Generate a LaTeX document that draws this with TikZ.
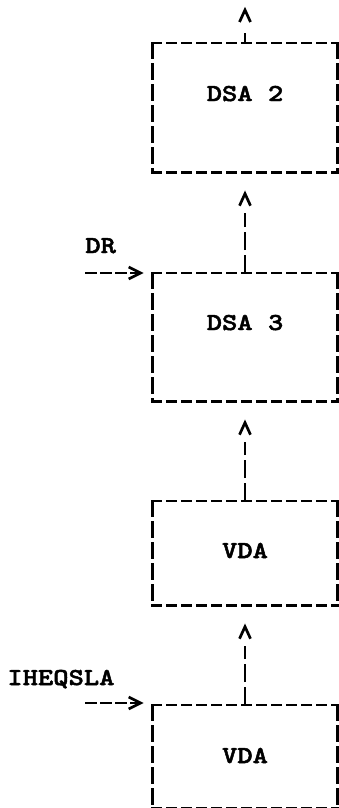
\documentclass[tikz,border=0pt]{standalone}
\usepackage{fontspec}
\newfontfamily\courfont{lmmonolt10-bold.otf}[FakeStretch=1.2,FakeBold=2]
\usetikzlibrary{arrows.meta,calc}
\newcommand\mydashbox[1]{%
  \draw[hedge] (#1.north west) -- (#1.north east);
  \draw[hedge] (#1.south west) -- (#1.south east);
  \draw[vedge] (#1.north west) -- (#1.south west);
  \draw[vedge] (#1.north east) -- (#1.south east);}
\newcommand\mycaret[2]{% node anchor, offset of apex
  \draw[caret] ($(#1)+(-5.5,#2-12)$) -- ($(#1)+(0,#2)$) -- ($(#1)+(5.5,#2-12)$);}
\begin{document}
\begin{tikzpicture}[x=1pt,y=1pt,line width=2.7pt,
  box/.style={draw=none,minimum width=182pt,inner sep=0pt,anchor=north},
  hedge/.style={line cap=rect,dash pattern=on 8.3pt off 6.7pt},
  vedge/.style={line cap=rect,dash pattern=on 14.3pt off 6.7pt},
  vconn/.style={dash pattern=on 18pt off 5pt},
  hconn/.style={dash pattern=on 12pt off 3pt,shorten >=9pt,
    -{Straight Barb[length=12pt,width=12pt,line width=2.7pt]}},
  caret/.style={line join=miter,line cap=butt},
  lbl/.style={font=\courfont\fontsize{24.3}{25}\selectfont,inner sep=0pt}]
\useasboundingbox (0,0) rectangle (339,-808);
% boxes
\node[box,minimum height=127pt] (dsa2) at (245,-43) {};
\node[box,minimum height=126pt] (dsa3) at (245,-273) {};
\node[box,minimum height=102pt] (vda1) at (245,-501) {};
\node[box,minimum height=101pt] (vda2) at (245,-705) {};
\mydashbox{dsa2}
\mydashbox{dsa3}
\mydashbox{vda1}
\mydashbox{vda2}
% box texts
\node[lbl,anchor=base] (t1) at (245,-101) {DSA 2};
\node[lbl,anchor=base] (t2) at (245,-330) {DSA 3};
\node[lbl,anchor=base] (t3) at (245,-558) {VDA};
\node[lbl,anchor=base] (t4) at (245,-763) {VDA};
% side labels
\node[lbl,anchor=base west] (dr) at (84,-253) {DR};
\node[lbl,anchor=base west] (ih) at (6,-685) {IHEQSLA};
\coordinate (drin) at (85,-273);
\coordinate (ihin) at (85,-703);
\draw[hconn] (drin) -- (dsa3.north west);
\draw[hconn] (ihin) -- ([yshift=2pt]vda2.north west);
% vertical connectors
\coordinate (top) at ($(dsa2.north)+(0,10)$);
\draw (dsa2.north) -- (top);
\mycaret{dsa2.north}{33}
\draw[vconn] (dsa3.north) -- ($(dsa2.south)+(0,-40)$);
\mycaret{dsa2.south}{-21}
\draw[vconn] (vda1.north) -- ($(dsa3.south)+(0,-40)$);
\mycaret{dsa3.south}{-21}
\draw[vconn] (vda2.north) -- ($(vda1.south)+(0,-40)$);
\mycaret{vda1.south}{-21}
\end{tikzpicture}
\end{document}
